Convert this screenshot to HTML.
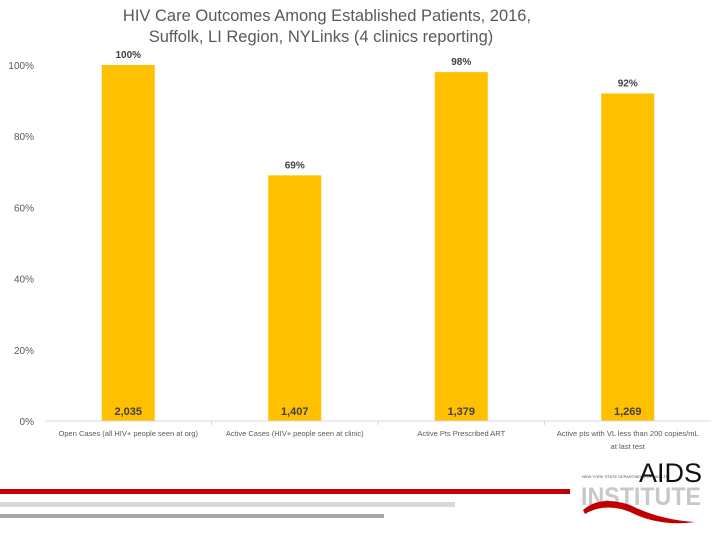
<!DOCTYPE html>
<html><head><meta charset="utf-8"><style>
body{margin:0;width:720px;height:540px;background:#fff;overflow:hidden;font-family:"Liberation Sans",sans-serif}
svg{display:block}
</style></head><body>
<svg width="720" height="540">
<text x="327" y="21" text-anchor="middle" font-size="16.5" fill="#595959">HIV Care Outcomes Among Established Patients, 2016,</text>
<text x="321" y="42" text-anchor="middle" font-size="16.5" fill="#595959">Suffolk, LI Region, NYLinks (4 clinics reporting)</text>
<g id="yaxis"></g>
<g id="bars"></g>
<line x1="45" y1="421" x2="711" y2="421" stroke="#d9d9d9" stroke-width="1"/>
<g id="xlabels"></g>
<rect x="0" y="489" width="570" height="5" fill="#c00000"/>
<rect x="0" y="502" width="455" height="5" fill="#d9d9d9"/>
<rect x="0" y="514" width="384" height="4" fill="#a6a6a6"/>
<g>
<text x="582" y="478" font-size="4" fill="#555">NEW YORK STATE DEPARTMENT OF HEALTH</text>
<text x="702" y="482" text-anchor="end" font-size="27" fill="#111">AIDS</text>
<text x="641" y="505" text-anchor="middle" font-size="25" font-weight="bold" fill="#c8c8c8" textLength="120" lengthAdjust="spacingAndGlyphs">INSTITUTE</text>
<path d="M583 510 Q600 495 630 505 Q660 520 695 522 Q660 527 630 512 Q605 502 585 514 Z" fill="#c00000"/>
</g>
</svg>
<script>
const categories=["Open Cases (all HIV+ people seen at org)","Active Cases  (HIV+ people seen at clinic)","Active Pts Prescribed ART","Active pts with VL less than 200 copies/mL|at last test"];
const values=[100,69,98,92];
const counts=["2,035","1,407","1,379","1,269"];
const yTicks=[0,20,40,60,80,100];
const NS="http://www.w3.org/2000/svg";
const x0=45,x1=711,y0=421,yTop=65;
const band=(x1-x0)/categories.length;
const ys=v=>y0-(y0-yTop)*v/100;
const xc=i=>x0+band*(i+0.5);
function mk(tag,attrs,parent,text){const e=document.createElementNS(NS,tag);for(const k in attrs)e.setAttribute(k,attrs[k]);if(text!==undefined)e.textContent=text;parent.appendChild(e);return e;}
const ya=document.getElementById('yaxis');
yTicks.forEach(t=>{const e=mk('text',{x:34,y:ys(t)+4,'text-anchor':'end','font-size':10,fill:'#595959'},ya,t+'%');

});
const bg=document.getElementById('bars');
const xl=document.getElementById('xlabels');
const bw=53;
values.forEach((v,i)=>{
const r=mk('rect',{x:xc(i)-bw/2,y:ys(v),width:bw,height:y0-ys(v),fill:'#ffc000'},bg);


const l=mk('text',{x:xc(i),y:ys(v)-7,'text-anchor':'middle','font-size':10,'font-weight':'bold',fill:'#404040'},bg,v+'%');


const c=mk('text',{x:xc(i),y:415,'text-anchor':'middle','font-size':11,'font-weight':'bold',fill:'#404040'},bg,counts[i]);


if(i>0){const s=mk('line',{x1:x0+band*i,y1:y0,x2:x0+band*i,y2:y0+4,stroke:'#d9d9d9'},xl);

}
categories[i].split('|').forEach((ln,j)=>{const t=mk('text',{x:xc(i),y:436+j*13,'text-anchor':'middle','font-size':7.5,fill:'#595959'},xl,ln);

});
});
</script>
</body></html>
